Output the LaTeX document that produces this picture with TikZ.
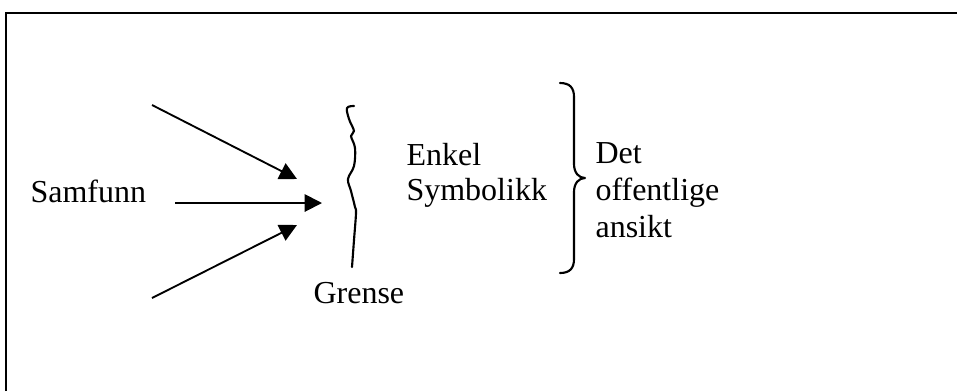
\documentclass[tikz,border=0pt]{standalone}
\usepackage{fontspec}
\setmainfont{Liberation Serif}
\usetikzlibrary{arrows.meta}
\begin{document}
\begin{tikzpicture}[x=0.375pt,y=-0.375pt,
  lbl/.style={anchor=base west,inner sep=0pt,font=\fontsize{12}{13.8}\selectfont},
  arr/.style={line width=0.7pt,-{Triangle[length=6.5pt,width=6.5pt]}},
  pen/.style={line width=0.8pt,line cap=round,line join=round}]
\useasboundingbox (0,0) rectangle (957,391);
% frame
\draw[line width=0.9pt] (6,391) -- (6,13) -- (960,13);
% texts
\node[lbl] (samfunn) at (30,202) {Samfunn};
\node[lbl] (enkel) at (406,165) {Enkel};
\node[lbl] (symb) at (406,200) {Symbolikk};
\node[lbl] (grense) at (313,303) {Grense};
\node[lbl] (det) at (595,163) {Det};
\node[lbl] (off) at (595,200) {offentlige};
\node[lbl] (ans) at (595,237) {ansikt};
% arrows
\coordinate (a1) at (152,105); \coordinate (b1) at (297,179);
\coordinate (a2) at (175,203); \coordinate (b2) at (322,203);
\coordinate (a3) at (152,298); \coordinate (b3) at (297,225);
\draw[arr] (a1) -- (b1);
\draw[arr] (a2) -- (b2);
\draw[arr] (a3) -- (b3);
% wavy boundary
\draw[pen] plot[smooth,tension=0.6] coordinates {(354,106) (347,108) (349,119) (354,131) (351,136) (355,148) (354,166) (348,179) (351,191) (355,207) (356,213) (354,240) (352,267)};
% right brace
\draw[pen] (560,83) .. controls (570,83) and (574,88) .. (574,97) -- (574,164)
  .. controls (574,173) and (579,178) .. (585,178)
  .. controls (579,178) and (574,183) .. (574,192) -- (574,259)
  .. controls (574,268) and (570,273) .. (560,273);
\end{tikzpicture}
\end{document}
